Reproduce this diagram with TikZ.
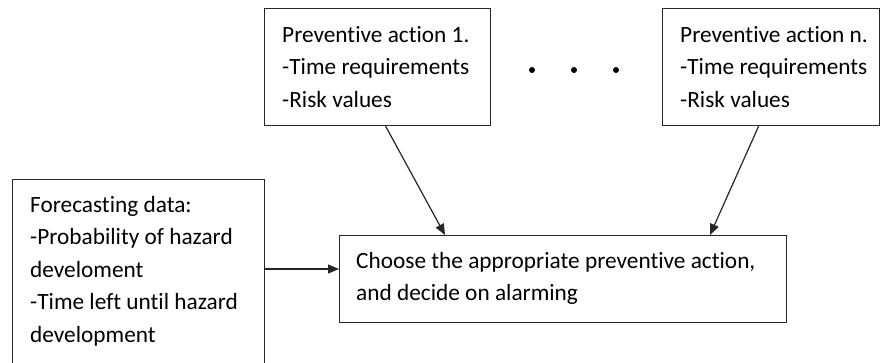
\documentclass[tikz,border=0pt]{standalone}
\usepackage{fontspec}
\setmainfont{Carlito}[RawFeature={-liga}]
\usetikzlibrary{arrows.meta,calc}
\begin{document}
\begin{tikzpicture}[x=1pt,y=-1pt,
  box/.style={draw=black!85,line width=1.2pt,rectangle,inner sep=0pt,anchor=north west},
  txt/.style={anchor=north west,inner sep=0pt,align=left,font=\fontsize{23.3}{32.5}\selectfont},
  arr/.style={draw=black!85,line width=1.2pt,-{Triangle[length=11pt,width=9pt]}},
  dot/.style={circle,fill=black,inner sep=0pt,minimum size=6pt}]
\useasboundingbox (0,0) rectangle (880,362);
\clip (0,0) rectangle (880,362);
\node[box,minimum width=226pt,minimum height=117pt] (p1) at (264,8) {};
\node[box,minimum width=217pt,minimum height=117pt] (pn) at (662,8) {};
\node[box,minimum width=252pt,minimum height=200pt] (fc) at (12,179) {};
\node[box,minimum width=447pt,minimum height=87pt] (ch) at (339,235) {};
\node[txt] (t1) at (282,42-22.75) {\strut Preventive action 1.\\-Time requirements\\-Risk values};
\node[txt] (tn) at (680,42-22.75) {\strut Preventive action n.\\-Time requirements\\-Risk values};
\node[txt] (tf) at (30,212-22.75) {\strut Forecasting data:\\-Probability of hazard\\develoment\\-Time left until hazard\\development};
\node[txt] (tc) at (356,268-22.75) {\strut Choose the appropriate preventive action,\\and decide on alarming};
\node[dot] (d1) at (532,70) {};
\node[dot] (d2) at (574,70) {};
\node[dot] (d3) at (616,70) {};
\draw[arr] ($(p1.south)+(8,0)$) -- ($(ch.north west)+(106,0)$);
\draw[arr] ($(pn.south)+(-12.5,0)$) -- ($(ch.north west)+(371,0)$);
\draw[arr] (fc.east |- 0,269) -- (ch.west |- 0,269);
\end{tikzpicture}
\end{document}
